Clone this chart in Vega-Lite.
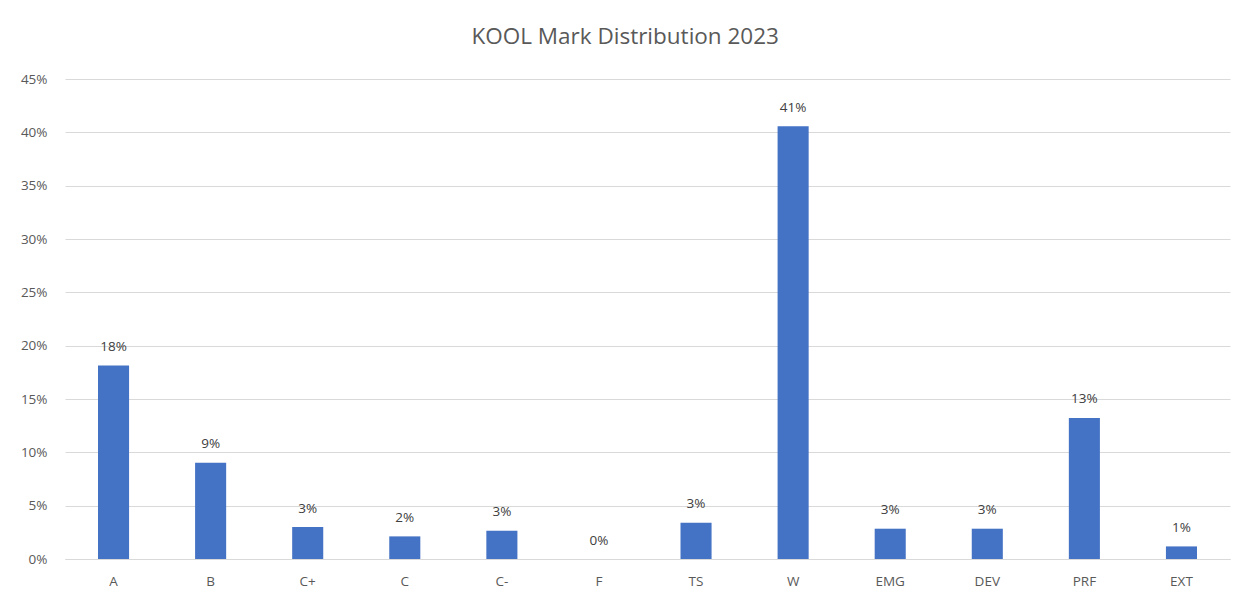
{
  "$schema": "https://vega.github.io/schema/vega-lite/v6.json",
  "width": 1165,
  "height": 480,
  "autosize": {"type": "none"},
  "padding": {"left": 65, "top": 79, "right": 21, "bottom": 40},
  "background": "white",
  "title": {
    "text": "KOOL Mark Distribution 2023",
    "font": "Open Sans",
    "fontSize": 22.5,
    "fontWeight": "normal",
    "color": "#595959",
    "anchor": "middle",
    "frame": "bounds",
    "offset": 24
  },
  "data": {
    "values": [
      {"grade": "A", "share": 0.1815},
      {"grade": "B", "share": 0.0903},
      {"grade": "C+", "share": 0.030},
      {"grade": "C", "share": 0.0212},
      {"grade": "C-", "share": 0.0265},
      {"grade": "F", "share": 0.0},
      {"grade": "TS", "share": 0.034},
      {"grade": "W", "share": 0.4056},
      {"grade": "EMG", "share": 0.0284},
      {"grade": "DEV", "share": 0.0284},
      {"grade": "PRF", "share": 0.1322},
      {"grade": "EXT", "share": 0.0118}
    ]
  },
  "config": {
    "view": {"stroke": null},
    "axis": {
      "labelFont": "Open Sans",
      "labelFontSize": 13.5,
      "labelColor": "#595959",
      "gridColor": "#d9d9d9",
      "domainColor": "#d9d9d9",
      "ticks": false,
      "title": null
    }
  },
  "encoding": {
    "x": {
      "field": "grade",
      "type": "nominal",
      "sort": null,
      "scale": {"paddingInner": 0.68, "paddingOuter": 0.34},
      "axis": {"labelAngle": 0, "labelPadding": 15, "domain": true, "grid": false}
    },
    "y": {
      "field": "share",
      "type": "quantitative",
      "scale": {"domain": [0, 0.45]},
      "axis": {
        "format": ".0%",
        "values": [0, 0.05, 0.1, 0.15, 0.2, 0.25, 0.3, 0.35, 0.4, 0.45],
        "domain": false,
        "labelPadding": 18,
        "grid": true
      }
    }
  },
  "layer": [
    {"mark": {"type": "bar", "color": "#4472c4"}},
    {
      "mark": {
        "type": "text",
        "dy": -18.5,
        "font": "Open Sans",
        "fontSize": 13.5,
        "color": "#404040"
      },
      "encoding": {
        "text": {"field": "share", "type": "quantitative", "format": ".0%"}
      }
    }
  ]
}
